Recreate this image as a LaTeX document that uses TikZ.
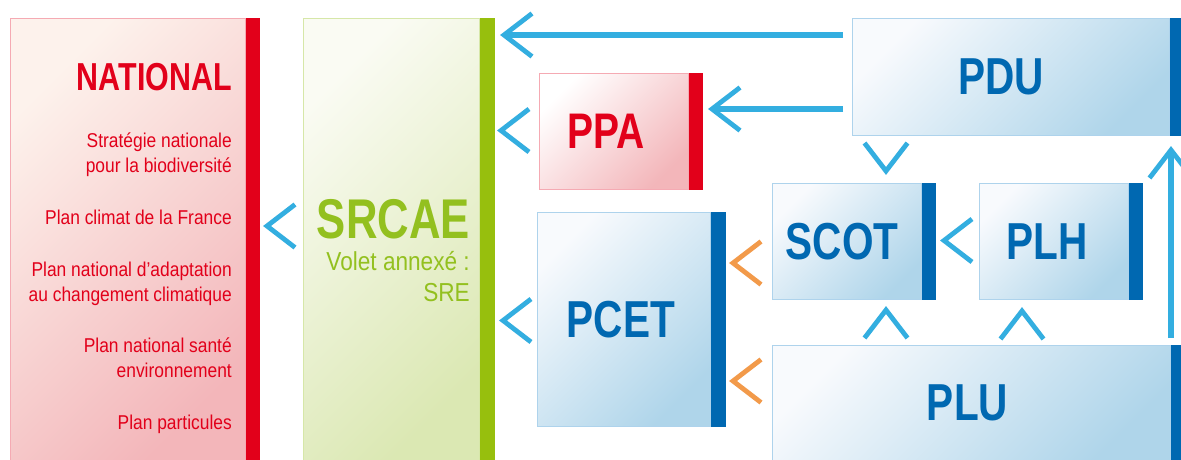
\documentclass[tikz,border=0pt]{standalone}
\usepackage{fontspec}
\usetikzlibrary{calc}
\newfontfamily\headfont[FakeStretch=0.78]{Liberation Sans Bold}
\newfontfamily\bodyfont[FakeStretch=0.87]{Liberation Sans}

\definecolor{natred}{HTML}{E2001A}
\definecolor{natline}{HTML}{F5AAB3}
\definecolor{natlight}{HTML}{FDF2EC}
\definecolor{natdeep}{HTML}{F3B6BA}
\definecolor{srgreen}{HTML}{97BF0D}
\definecolor{srtext}{HTML}{93C01F}
\definecolor{srline}{HTML}{D6E7A8}
\definecolor{srlight}{HTML}{FAFBF3}
\definecolor{srdeep}{HTML}{DBE8B3}
\definecolor{locblue}{HTML}{0068B1}
\definecolor{locline}{HTML}{AED3EC}
\definecolor{loclight}{HTML}{F8FAFD}
\definecolor{locdeep}{HTML}{AFD5EA}
\definecolor{linkblue}{HTML}{33AEE0}
\definecolor{linkorange}{HTML}{F29A4A}

\begin{document}
\begin{tikzpicture}[x=1pt,y=-1pt,
  box/.style={draw, line width=1pt, anchor=north west, inner sep=0pt},
  redbox/.style={box, draw=natline, top color=natlight, bottom color=natdeep, shading angle=45},
  greenbox/.style={box, draw=srline, top color=srlight, bottom color=srdeep, shading angle=45},
  bluebox/.style={box, draw=locline, top color=loclight, bottom color=locdeep, shading angle=45},
  bigtext/.style={font=\headfont\fontsize{52}{60}\selectfont, text=locblue, inner sep=0pt},
  nattext/.style={font=\bodyfont\fontsize{20}{25}\selectfont, text=natred, anchor=base east, inner sep=0pt},
  srtextstyle/.style={font=\bodyfont\fontsize{26}{31}\selectfont, text=srtext, anchor=base east, inner sep=0pt},
  shaft/.style={draw=linkblue, line width=6pt, shorten >=3pt},
  chev/.pic={\draw[pic actions, line width=4.8pt, line join=miter] (31,-21.5) -- (3,0) -- (31,21.5);}
]
\useasboundingbox (0,0) rectangle (1181,459);
\clip (0,0) rectangle (1181,459);
\fill[white] (0,0) rectangle (1181,459);

% national level
\node[redbox, minimum width=235pt, minimum height=444pt] (nat) at (10,18) {};
\fill[natred] (nat.north east) rectangle ($(nat.south east)+(14,0)$);
\node[font=\headfont\fontsize{39}{45}\selectfont, text=natred, anchor=base east, inner sep=0pt] (natTitle) at (232,90) {NATIONAL};
\node[nattext] (n1) at (232,147) {Stratégie nationale};
\node[nattext] (n2) at (232,172) {pour la biodiversité};
\node[nattext] (n3) at (232,224) {Plan climat de la France};
\node[nattext] (n4) at (232,276) {Plan national d’adaptation};
\node[nattext] (n5) at (232,301) {au changement climatique};
\node[nattext] (n6) at (232,352) {Plan national santé};
\node[nattext] (n7) at (232,377) {environnement};
\node[nattext] (n8) at (232,429) {Plan particules};

% regional scheme
\node[greenbox, minimum width=176pt, minimum height=444pt] (srcae) at (303,18) {};
\fill[srgreen] (srcae.north east) rectangle ($(srcae.south east)+(15,0)$);
\node[font=\headfont\fontsize{56}{62}\selectfont, text=srtext, anchor=base east, inner sep=0pt] (srTitle) at (470,238) {SRCAE};
\node[srtextstyle] (sr1) at (470,270) {Volet annexé :};
\node[srtextstyle] (sr2) at (470,301) {SRE};

% PPA
\node[redbox, top color=white, bottom color=natdeep, shading angle=45, minimum width=149pt, minimum height=116pt,
      label={[bigtext, text=natred, font=\headfont\fontsize{50}{56}\selectfont, xshift=-8pt]center:PPA}] (ppa) at (539,73) {};
\fill[natred] (ppa.north east) rectangle ($(ppa.south east)+(14,0)$);

% local plans
\node[bluebox, minimum width=317pt, minimum height=117pt, label={[bigtext, xshift=-10pt]center:PDU}] (pdu) at (852,18) {};
\fill[locblue] (pdu.north east) rectangle ($(pdu.south east)+(14,0)$);

\node[bluebox, minimum width=149pt, minimum height=116pt, label={[bigtext, xshift=-5pt]center:SCOT}] (scot) at (772,183) {};
\fill[locblue] (scot.north east) rectangle ($(scot.south east)+(14,0)$);

\node[bluebox, minimum width=149pt, minimum height=116pt, label={[bigtext, xshift=-7pt]center:PLH}] (plh) at (979,183) {};
\fill[locblue] (plh.north east) rectangle ($(plh.south east)+(14,0)$);

\node[bluebox, minimum width=173pt, minimum height=214pt, label={[bigtext, xshift=-3pt]center:PCET}] (pcet) at (537,212) {};
\fill[locblue] (pcet.north east) rectangle ($(pcet.south east)+(15,0)$);

\node[bluebox, minimum width=398pt, minimum height=115pt, label={[bigtext, xshift=-4pt]center:PLU}] (plu) at (772,345) {};
\fill[locblue] (plu.north east) rectangle ($(plu.south east)+(14,0)$);

% links with shafts
\coordinate (pduTailA) at ($(pdu.north west)+(-9,17)$);
\coordinate (srcaeTipA) at ($(srcae.north east)+(21,17)$);
\draw[shaft] (pduTailA) -- (srcaeTipA);
\pic[draw=linkblue] at (srcaeTipA) {chev};

\coordinate (pduTailB) at ($(pdu.north west)+(-9,91)$);
\coordinate (ppaTip) at ($(ppa.north east)+(20,36)$);
\draw[shaft] (pduTailB) -- (ppaTip);
\pic[draw=linkblue] at (ppaTip) {chev};

\coordinate (pluTail) at ($(plu.north east)+(0,-7)$);
\coordinate (pduTip) at ($(pdu.south east)+(1,11)$);
\draw[shaft] (pluTail) -- (pduTip);
\pic[draw=linkblue, rotate=-90] at (pduTip) {chev};

% compatibility marks without shafts
\coordinate (natTip) at ($(nat.north east)+(18,208)$);
\pic[draw=linkblue] at (natTip) {chev};
\coordinate (srcaeTipB) at ($(ppa.west)+(-41,-1)$);
\pic[draw=linkblue] at (srcaeTipB) {chev};
\coordinate (srcaeTipC) at ($(pcet.west)+(-37,1)$);
\pic[draw=linkblue] at (srcaeTipC) {chev};
\coordinate (scotTipA) at ($(pdu.south west)+(34,38)$);
\pic[draw=linkblue, rotate=90] at (scotTipA) {chev};
\coordinate (scotTipB) at ($(plh.west)+(-38,-1)$);
\pic[draw=linkblue] at (scotTipB) {chev};
\coordinate (scotTipC) at ($(plu.north west)+(114,-38)$);
\pic[draw=linkblue, rotate=-90] at (scotTipC) {chev};
\coordinate (plhTip) at ($(plu.north west)+(250,-37)$);
\pic[draw=linkblue, rotate=-90] at (plhTip) {chev};
\coordinate (pcetTipA) at ($(pcet.north east)+(19,51)$);
\pic[draw=linkorange] at (pcetTipA) {chev};
\coordinate (pcetTipB) at ($(pcet.north east)+(19,169)$);
\pic[draw=linkorange] at (pcetTipB) {chev};
\end{tikzpicture}
\end{document}
